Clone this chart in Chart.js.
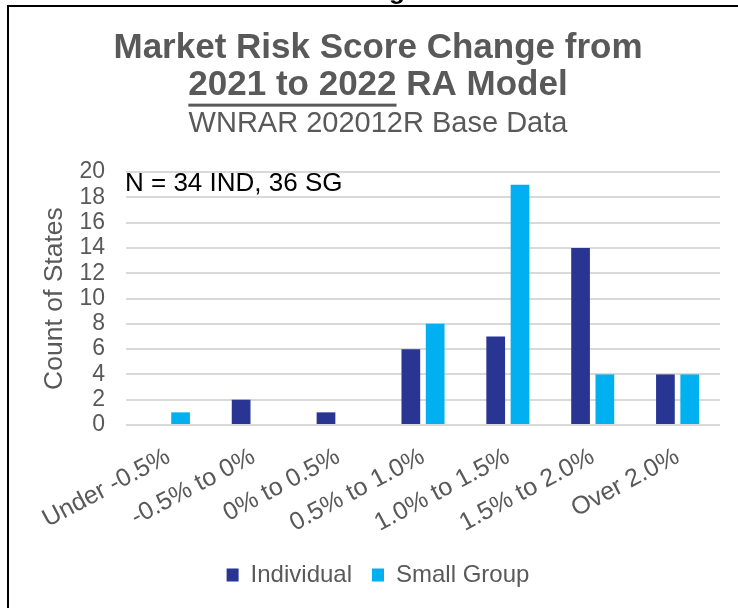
<!DOCTYPE html>
<html>
<head>
<meta charset="utf-8">
<script src="https://cdn.jsdelivr.net/npm/chart.js@4/dist/chart.umd.min.js"></script>
<style>
  html, body { margin: 0; padding: 0; background: #fff; }
  #wrap { position: relative; width: 738px; height: 608px; overflow: hidden; }
  #frame { position: absolute; left: 7px; top: 5px; width: 740px; height: 620px;
           border-left: 2px solid #000; border-top: 2px solid #000; pointer-events: none; }
  #clip { position: absolute; left: 389px; top: -23px; font: bold 26px "Liberation Sans", Arial, sans-serif;
          line-height: 26px; color: #000; }
  canvas { position: absolute; left: 0; top: 0; }
</style>
</head>
<body>
<div id="wrap">
  <canvas id="riskChart" width="738" height="608"></canvas>
  <div id="frame"></div>
  <div id="clip">g</div>
</div>
<script>
const categories = ["Under -0.5%", "-0.5% to 0%", "0% to 0.5%", "0.5% to 1.0%", "1.0% to 1.5%", "1.5% to 2.0%", "Over 2.0%"];
const individual = [0, 2, 1, 6, 7, 14, 4];
const smallGroup = [1, 0, 0, 8, 19, 4, 4];
const yMin = 0;
const yMax = 20;
const yStep = 2;

const FONT = '"Liberation Sans", Arial, sans-serif';
const GRAY = "#595959";

// underline under "2021 to 2022" and the N label inside the plot
const extras = {
  id: "extras",
  afterDraw(chart) {
    const ctx = chart.ctx;
    const t = chart.titleBlock;
    const tf = Chart.helpers.toFont(chart.options.plugins.title.font);
    const line2 = chart.options.plugins.title.text[1];
    ctx.save();
    ctx.font = tf.string;
    const full = ctx.measureText(line2).width;
    const part = ctx.measureText("2021 to 2022").width;
    const cx = (t.left + t.right) / 2;
    const y2 = t.top + chart.options.plugins.title.padding.top + tf.lineHeight * 1.5;
    ctx.fillStyle = GRAY;
    ctx.fillRect(cx - full / 2, y2 + 18, part, 3);

    const area = chart.chartArea;
    ctx.font = "26px " + FONT;
    ctx.fillStyle = "#000";
    ctx.textBaseline = "middle";
    ctx.textAlign = "left";
    ctx.fillText("N = 34 IND, 36 SG", area.left - 1, area.top + 12);
    ctx.restore();
  }
};

const ctx = document.getElementById("riskChart").getContext("2d");
const chart = new Chart(ctx, {
  type: "bar",
  data: {
    labels: categories,
    datasets: [
      {
        label: "Individual",
        data: individual,
        backgroundColor: "#283593",
        categoryPercentage: 0.573,
        barPercentage: 0.77
      },
      {
        label: "Small Group",
        data: smallGroup,
        backgroundColor: "#00B0F0",
        categoryPercentage: 0.573,
        barPercentage: 0.77
      }
    ]
  },
  options: {
    responsive: false,
    animation: false,
    layout: { padding: { left: 36, right: 18, top: 0, bottom: 11 } },
    plugins: {
      title: {
        display: true,
        text: ["Market Risk Score Change from", "2021 to 2022 RA Model"],
        color: GRAY,
        font: { family: FONT, size: 35, weight: "bold", lineHeight: 1.06 },
        padding: { top: 30, bottom: 4 }
      },
      subtitle: {
        display: true,
        text: "WNRAR 202012R Base Data",
        color: GRAY,
        font: { family: FONT, size: 29, lineHeight: 1.1 },
        padding: { top: 0, bottom: 32 }
      },
      legend: {
        position: "bottom",
        labels: {
          boxWidth: 12,
          boxHeight: 13,
          color: GRAY,
          font: { family: FONT, size: 24 },
          padding: 20
        }
      },
      tooltip: { enabled: false }
    },
    scales: {
      x: {
        grid: { display: false },
        border: { display: false },
        ticks: {
          color: GRAY,
          font: { family: FONT, size: 25 },
          minRotation: 28,
          maxRotation: 28,
          autoSkip: false,
          padding: 9
        },
        afterFit(scale) { scale.height = 118; }
      },
      y: {
        min: yMin,
        max: yMax,
        border: { display: false },
        grid: { color: "#D9D9D9", lineWidth: 2, drawTicks: false },
        ticks: {
          stepSize: yStep,
          autoSkip: false,
          color: GRAY,
          font: { family: FONT, size: 23 },
          padding: 21
        },
        title: {
          display: true,
          text: "Count of States",
          color: GRAY,
          font: { family: FONT, size: 26.5 },
          padding: { top: 3, bottom: 0 }
        },
        afterFit(scale) { scale.width = 90; }
      }
    }
  },
  plugins: [extras]
});
</script>
</body>
</html>
